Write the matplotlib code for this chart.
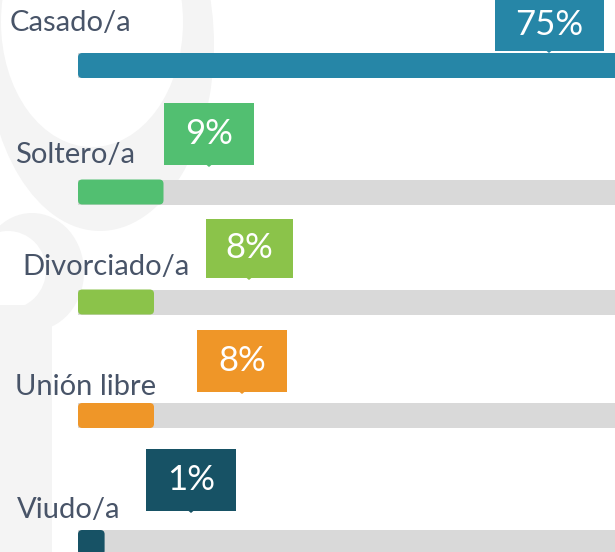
import matplotlib
matplotlib.use("Agg")
import matplotlib.pyplot as plt
from matplotlib.patches import Ellipse, Rectangle, Polygon, FancyBboxPatch

# data
categories = ["Casado/a", "Soltero/a", "Divorciado/a", "Unión libre", "Viudo/a"]
percentages = [75, 9, 8, 8, 1]
value_labels = ["75%", "9%", "8%", "8%", "1%"]
colors = ["#2686a7", "#52bf71", "#8bc34a", "#ef9628", "#175265"]

# layout (pixels from top-left of the 615x552 image)
W, H = 615, 552
X0 = 78          # where the bars start
PX = 9.5         # pixels per percent point
bar_y = [65.5, 192, 302, 415.5, 542.5]
bar_h = 25
label_x = [10, 15, 22, 15, 17]
label_base = [31, 163, 275, 395, 518]
box_cx = [549, 209, 249, 242, 191]
box_w = [109, 90, 87, 90, 90]
box_top = [-11, 103, 219, 330, 449]
box_bot = [51, 165, 278, 392, 511]
min_bar = 2.8    # tiny values still get a visible stub

text_col = "#485468"
track_col = "#d9d9d9"
wm_col = "#f4f4f4"

fig = plt.figure(figsize=(W / 100, H / 100), dpi=100)
fig.patch.set_facecolor("white")

# faint watermark in the background
bg = fig.add_axes([0, 0, 1, 1], zorder=0)
bg.set_xlim(0, W)
bg.set_ylim(H, 0)
bg.axis("off")
bg.add_patch(Ellipse((100, 45), 228, 372, color=wm_col, lw=0))
bg.add_patch(Ellipse((92, 22), 182, 250, color="white", lw=0))
bg.add_patch(Ellipse((32, 272), 104, 118, color=wm_col, lw=0))
bg.add_patch(Ellipse((8, 270), 76, 78, color="white", lw=0))
bg.add_patch(Rectangle((0, 305), 52, H - 305, color=wm_col, lw=0))

ax = fig.add_axes([0, 0, 1, 1], zorder=1)
ax.patch.set_alpha(0)
ax.set_xlim(-X0 / PX, (W - X0) / PX)
ax.set_ylim(H, 0)
ax.axis("off")

def px(x):
    return (x - X0) / PX

# gray tracks, then the coloured bars
ax.barh(bar_y, [100] * 5, height=bar_h, left=0, color=track_col, zorder=1)
widths = [max(v, min_bar) for v in percentages]
bars = ax.barh(bar_y, widths, height=bar_h, left=0, color=colors, zorder=2)
for b in bars:
    b.set_visible(False)
    ax.add_patch(FancyBboxPatch((b.get_x(), b.get_y()), b.get_width(), b.get_height(),
                                boxstyle="round,pad=0,rounding_size=0.45",
                                mutation_aspect=PX, color=b.get_facecolor(), lw=0, zorder=2))

for i, cat in enumerate(categories):
    ax.text(px(label_x[i]), label_base[i], cat, fontsize=21, family="Lato",
            color=text_col, ha="left", va="baseline", zorder=3)

    # value callout box with a tiny pointer
    left = px(box_cx[i] - box_w[i] / 2)
    ax.add_patch(Rectangle((left, box_top[i]), box_w[i] / PX, box_bot[i] - box_top[i],
                           color=colors[i], lw=0, zorder=3))
    cx = px(box_cx[i])
    ax.add_patch(Polygon([(cx - 0.25, box_bot[i]), (cx + 0.25, box_bot[i]), (cx, box_bot[i] + 2)],
                         color=colors[i], lw=0, zorder=3))
    ax.text(cx, (box_top[i] + box_bot[i]) / 2 + (5 if i == 0 else 0), value_labels[i],
            fontsize=25, family="Lato", color="white",
            ha="center", va="center", zorder=4)

fig.savefig("out.png", dpi=100)
